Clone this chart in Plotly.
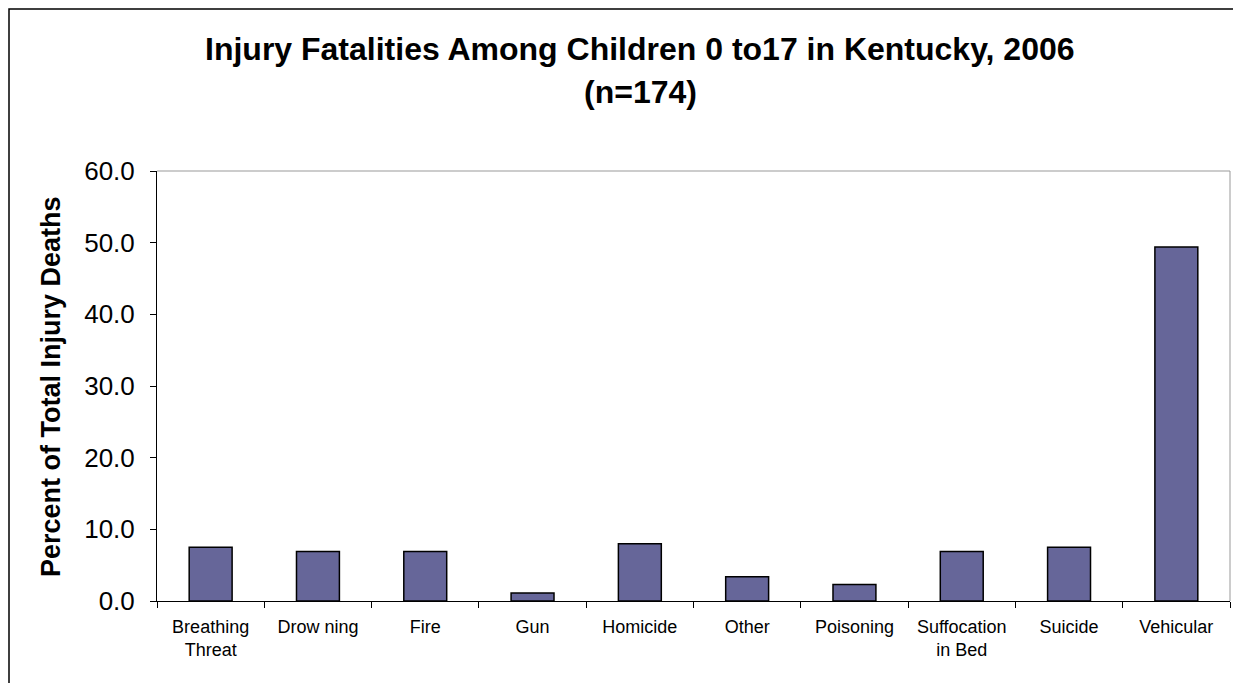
import plotly.graph_objects as go

categories = ["Breathing<br>Threat", "Drow ning", "Fire", "Gun", "Homicide", "Other",
              "Poisoning", "Suffocation<br>in Bed", "Suicide", "Vehicular"]
percent = [7.5, 6.9, 6.9, 1.1, 8.0, 3.4, 2.3, 6.9, 7.5, 49.4]
y_ticks = [0, 10, 20, 30, 40, 50, 60]
title_lines = ["Injury Fatalities Among Children 0 to17 in Kentucky, 2006", "(n=174)"]
y_title = "Percent of Total Injury Deaths"

FONT = "Liberation Sans, Arial, sans-serif"

L, R, T, B = 157, 3, 171, 82
W, H = 1233, 683
PW, PH = W - L - R, H - T - B


def px_x(x):
    return (x - L) / PW


def px_y(y):
    return (H - B - y) / PH


fig = go.Figure(go.Bar(
    x=categories, y=percent,
    marker=dict(color="#666699", line=dict(color="black", width=1.5)),
))

fig.update_layout(
    width=W, height=H,
    margin=dict(l=L, r=R, t=T, b=B),
    paper_bgcolor="white", plot_bgcolor="white",
    bargap=0.6,
    showlegend=False,
    font=dict(family=FONT, color="black"),
    xaxis=dict(
        showline=True, linecolor="black", linewidth=1,
        ticks="outside", tickson="boundaries", ticklen=6, tickcolor="black",
        tickfont=dict(size=18, family=FONT, color="black"),
        ticklabelstandoff=9,
        showgrid=False, zeroline=False,
    ),
    yaxis=dict(
        range=[0, 60], tickvals=y_ticks, tickformat=".1f",
        showline=True, linecolor="black", linewidth=1,
        ticks="outside", ticklen=6, tickcolor="black",
        tickfont=dict(size=26, family=FONT, color="black"),
        ticklabelstandoff=10,
        showgrid=False, zeroline=False,
    ),
)

# title lines
fig.add_annotation(text=f"<b>{title_lines[0]}</b>", xref="paper", yref="paper",
                   x=px_x(640), y=px_y(49), xanchor="center", yanchor="middle",
                   showarrow=False, font=dict(size=32, family=FONT, color="black"))
fig.add_annotation(text=f"<b>{title_lines[1]}</b>", xref="paper", yref="paper",
                   x=px_x(640), y=px_y(92), xanchor="center", yanchor="middle",
                   showarrow=False, font=dict(size=32, family=FONT, color="black"))
# y-axis title
fig.add_annotation(text=f"<b>{y_title}</b>", xref="paper", yref="paper",
                   x=px_x(51), y=px_y(387), xanchor="center", yanchor="middle",
                   textangle=-90, showarrow=False,
                   font=dict(size=27, family=FONT, color="black"))

# gray border on top and right of plot area
fig.add_shape(type="line", xref="paper", yref="paper", x0=0, x1=1, y0=1, y1=1,
              line=dict(color="#999999", width=1))
fig.add_shape(type="line", xref="paper", yref="paper", x0=1, x1=1, y0=0, y1=1,
              line=dict(color="#999999", width=1))

# outer chart border (extends past the window on the right and bottom)
fig.add_shape(type="rect", xref="paper", yref="paper",
              x0=px_x(9), x1=1.2, y0=-0.5, y1=px_y(9),
              line=dict(color="black", width=1.5), layer="below")

fig.write_html("out.html")
